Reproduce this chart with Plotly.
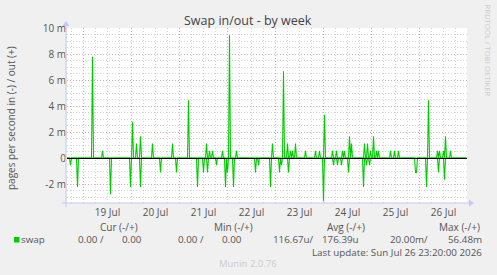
import pandas as pd
import plotly.graph_objects as go

# ---- data (values in milli pages/second) ----
out_times = ["2026-07-19 04:30", "2026-07-19 09:30", "2026-07-20 00:30", "2026-07-20 02:30",
             "2026-07-20 04:30", "2026-07-20 10:30", "2026-07-20 20:30", "2026-07-21 04:30",
             "2026-07-21 13:30", "2026-07-21 15:00", "2026-07-21 16:30", "2026-07-21 21:30",
             "2026-07-22 01:00", "2026-07-22 04:30", "2026-07-22 22:30", "2026-07-23 04:00",
             "2026-07-23 06:00", "2026-07-23 07:30", "2026-07-23 08:30", "2026-07-23 10:00",
             "2026-07-23 15:00", "2026-07-23 20:00", "2026-07-23 22:00", "2026-07-24 00:30",
             "2026-07-24 04:30", "2026-07-24 06:30", "2026-07-24 09:30", "2026-07-24 10:30",
             "2026-07-24 13:00", "2026-07-24 14:00", "2026-07-24 20:30", "2026-07-24 22:00",
             "2026-07-24 23:30", "2026-07-25 01:00", "2026-07-25 02:30", "2026-07-25 03:30",
             "2026-07-25 09:30", "2026-07-25 11:30", "2026-07-25 13:30", "2026-07-26 04:30",
             "2026-07-26 09:00", "2026-07-26 10:00", "2026-07-26 12:00", "2026-07-26 13:00",
             "2026-07-26 15:30"]
out_vals = [7.78, 0.56, 2.78, 1.11,
            1.67, 1.11, 1.11, 4.44,
            1.11, 0.56, 0.56, 0.56,
            9.44, 0.56, 1.11, 6.67,
            1.11, 0.56, 0.56, 1.11,
            0.56, 0.56, 0.56, 3.33,
            0.56, 0.56, 0.56, 0.56,
            1.67, 1.11, 1.11, 1.11,
            0.56, 1.67, 0.56, 0.56,
            0.56, 0.56, 0.56, 4.44,
            0.56, 0.56, 0.56, 1.67,
            0.56]

in_times = ["2026-07-18 17:30", "2026-07-18 21:00", "2026-07-19 13:30", "2026-07-19 23:30",
            "2026-07-20 04:30", "2026-07-20 14:30", "2026-07-20 22:30", "2026-07-21 09:00",
            "2026-07-21 12:00", "2026-07-21 14:00", "2026-07-21 18:30", "2026-07-21 23:00",
            "2026-07-22 00:00", "2026-07-22 03:00", "2026-07-22 14:00", "2026-07-22 15:30",
            "2026-07-22 21:30", "2026-07-23 02:00", "2026-07-23 03:00", "2026-07-23 06:30",
            "2026-07-24 00:00", "2026-07-24 05:00", "2026-07-24 07:00", "2026-07-24 09:00",
            "2026-07-24 12:30", "2026-07-24 20:00", "2026-07-24 21:30", "2026-07-24 23:00",
            "2026-07-25 22:00", "2026-07-25 22:30", "2026-07-26 03:30", "2026-07-26 09:30",
            "2026-07-26 12:30"]
in_vals = [0.56, 2.22, 2.78, 2.22,
           2.22, 1.11, 1.11, 2.22,
           1.11, 1.11, 0.56, 2.22,
           1.11, 2.22, 1.11, 0.56,
           2.22, 1.11, 0.56, 1.11,
           3.33, 0.56, 0.56, 0.56,
           1.11, 2.22, 0.56, 0.56,
           1.11, 1.11, 2.22, 1.11,
           1.67]

series_start = "2026-07-18 15:30"
series_end = "2026-07-26 23:30"
x_range = ["2026-07-18 15:45", "2026-07-26 23:45"]

y_tickvals = [-2, 0, 2, 4, 6, 8, 10]
y_ticktext = ["-2 m", "0", "2 m", "4 m", "6 m", "8 m", "10 m"]
y_range = [-3.4615, 10]

legend_headers = ["Cur (-/+)", "Min (-/+)", "Avg (-/+)", "Max (-/+)"]
legend_values = ["0.00 /", "0.00", "0.00 /", "0.00", "116.67u/", "176.39u", "20.00m/", "56.48m"]
series_name = "swap"
last_update = "Last update: Sun Jul 26 23:20:00 2026"
title_text = "Swap in/out - by week"
y_title = "pages per second in (-) / out (+)"
watermark = "RRDTOOL / TOBI OETIKER"
footer = "Munin 2.0.76"

# ---- build dense 30-minute series (zero baseline) ----
grid = pd.date_range(series_start, series_end, freq="30min")
out_s = pd.Series(0.0, index=grid)
in_s = pd.Series(0.0, index=grid)
for t, v in zip(out_times, out_vals):
    out_s[pd.Timestamp(t)] = v
for t, v in zip(in_times, in_vals):
    in_s[pd.Timestamp(t)] = -v

GREEN = "#00CC00"
W, H = 497, 275
L, R, T, B = 67, 467, 28, 203  # plot area in pixels


def px(x, y):
    return (x - L) / (R - L), (B - y) / (B - T)


fig = go.Figure()
fig.add_trace(go.Scatter(x=grid, y=in_s.values, mode="lines",
                         line=dict(color=GREEN, width=1.1), hoverinfo="skip"))
fig.add_trace(go.Scatter(x=grid, y=out_s.values, mode="lines",
                         line=dict(color=GREEN, width=1.1), hoverinfo="skip"))

FONT = "Open Sans"
TXT = "#555555"

fig.update_layout(
    width=W, height=H,
    margin=dict(l=L, r=W - R, t=T, b=H - B),
    paper_bgcolor="#F0F0F0", plot_bgcolor="#FFFFFF",
    showlegend=False,
    font=dict(family=FONT, size=10, color=TXT),
    xaxis=dict(
        type="date", range=x_range,
        tick0="2026-07-19", dtick=86400000,
        ticklabelmode="period", tickformat="%d %b",
        showgrid=True, gridcolor="#EBA8A8", griddash="1px,2px", gridwidth=1,
        minor=dict(dtick=21600000, tick0="2026-07-19", showgrid=True,
                   gridcolor="#D4D4D4", griddash="1px,2px", gridwidth=1),
        showline=False, zeroline=False, ticks="",
        ticklabelstandoff=2,
        tickfont=dict(family=FONT, size=10, color=TXT),
        fixedrange=True,
    ),
    yaxis=dict(
        range=y_range, tickvals=y_tickvals, ticktext=y_ticktext,
        showgrid=True, gridcolor="#EBA8A8", griddash="1px,2px", gridwidth=1,
        minor=dict(dtick=0.5, tick0=0, showgrid=True,
                   gridcolor="#D4D4D4", griddash="1px,2px", gridwidth=1),
        showline=False, zeroline=False, ticks="",
        tickfont=dict(family=FONT, size=10, color=TXT),
        fixedrange=True,
    ),
)

AX = "#C4C8F4"
shapes = []
# axis lines
x0, y0 = px(62, 203)
x1, _ = px(469, 203)
shapes.append(dict(type="line", xref="paper", yref="paper", x0=x0, x1=x1, y0=y0, y1=y0,
                   line=dict(color=AX, width=1), layer="above"))
xa, ya0 = px(66, 207)
_, ya1 = px(66, 25)
shapes.append(dict(type="line", xref="paper", yref="paper", x0=xa, x1=xa, y0=ya0, y1=ya1,
                   line=dict(color=AX, width=1), layer="above"))
# arrows
p1, p2, p3 = px(469, 199.5), px(474, 203), px(469, 206.5)
shapes.append(dict(type="path", xref="paper", yref="paper",
                   path=f"M {p1[0]} {p1[1]} L {p2[0]} {p2[1]} L {p3[0]} {p3[1]} Z",
                   fillcolor=AX, line=dict(width=0), layer="above"))
q1, q2, q3 = px(62.5, 26), px(66, 21), px(69.5, 26)
shapes.append(dict(type="path", xref="paper", yref="paper",
                   path=f"M {q1[0]} {q1[1]} L {q2[0]} {q2[1]} L {q3[0]} {q3[1]} Z",
                   fillcolor=AX, line=dict(width=0), layer="above"))
# zero rule (aligned on the pixel row of value 0)
_, zy = px(0, 158.5)
shapes.append(dict(type="line", xref="paper", yref="paper", x0=0, x1=1, y0=zy, y1=zy,
                   line=dict(color="#000000", width=1), layer="above"))
# legend colour box
b0, b1 = px(14, 237), px(19.5, 242.5)
shapes.append(dict(type="rect", xref="paper", yref="paper", x0=b0[0], x1=b1[0], y0=b1[1], y1=b0[1],
                   fillcolor=GREEN, line=dict(width=0)))
fig.update_layout(shapes=shapes)

ann = []


def text(s, x, y, xanchor="center", size=10, color=TXT, angle=0, yanchor="middle"):
    X, Y = px(x, y)
    ann.append(dict(text=s, x=X, y=Y, xref="paper", yref="paper", showarrow=False,
                    xanchor=xanchor, yanchor=yanchor, textangle=angle, borderpad=0,
                    font=dict(family=FONT, size=size, color=color)))


text(title_text, 248, 20.5, size=12.5, color="#444444")
text(y_title, 11, 118, size=10, angle=-90)
text(watermark, 487.5, 50, size=7.7, color="#CCCCCC", angle=90)

hdr_pos = [(119, "center"), (233, "center"), (345.5, "center"), (481, "right")]
for s, (x, a) in zip(legend_headers, hdr_pos):
    text(s, x, 226.5, xanchor=a)
text(series_name, 20, 239.2, xanchor="left", size=9.8)
val_right = [105, 143, 205, 243, 315, 360, 429, 483]
for s, x in zip(legend_values, val_right):
    text(s, x, 239.2, xanchor="right", size=9.8)
text(last_update, 483, 252, xanchor="right", size=9.8)
text(footer, 248, 263.5, size=9.5, color="#CCCCCC")

fig.update_layout(annotations=ann)
fig.write_html("out.html")
